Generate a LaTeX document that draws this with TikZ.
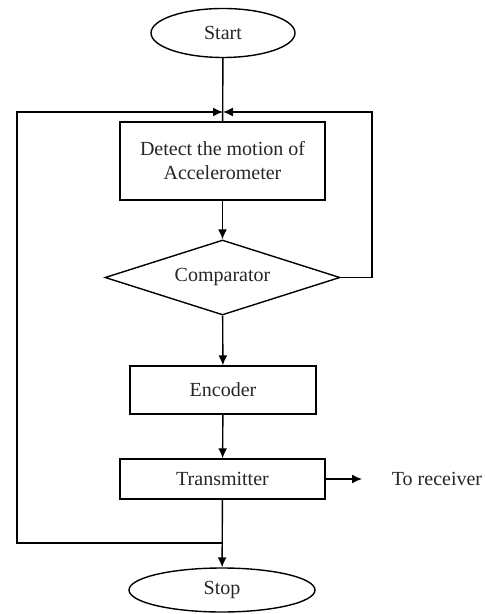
\documentclass[tikz,border=0pt]{standalone}
\usepackage{fontspec}
\setmainfont{Liberation Serif}
\usepackage{tikz}
\usetikzlibrary{arrows.meta,positioning,shapes}

\begin{document}
\begin{tikzpicture}[x=0.5pt, y=-0.5pt, >={Latex[length=5pt,width=4.5pt]}, line width=0.7pt,
        every node/.style={font=\fontsize{10}{12}\selectfont, text=black!85},
        term/.style={draw, ellipse, inner sep=0pt},
        proc/.style={draw, rectangle, align=center, inner sep=0pt},
        dec/.style={draw, diamond, aspect=3, inner sep=0pt}]
                        \useasboundingbox (0,0) rectangle (484,614);
                        \node[term, minimum width=72pt, minimum height=24.5pt] (start) at (223, 33) {Start};
                        \node[proc, minimum width=102.5pt, minimum height=39pt] (detect) at (222.5, 161) {Detect the motion of\\Accelerometer};
                        \node[dec, minimum width=117.5pt, minimum height=37.5pt] (comp) at (222.5, 277.5) {Comparator};
                        \node[proc, minimum width=93pt, minimum height=24pt] (enc) at (223, 390) {Encoder};
                        \node[proc, minimum width=102.5pt, minimum height=20pt] (trans) at (222.5, 479) {Transmitter};
                        \node[term, minimum width=93pt, minimum height=22pt] (stop) at (222, 590) {Stop};
                        \node (recv) at (437, 479) {To receiver};
                        \coordinate (jtop) at (223, 112);
                        \coordinate (jbot) at (223, 543);
                        \coordinate (lbot) at (17, 543);
                        \coordinate (ltop) at (17, 112);
                        \coordinate (rmid) at (372, 277.5);
                        \coordinate (rtop) at (372, 112);
                        \draw (start) -- (detect);
                        \draw [->] (detect) -- (comp);
                        \draw [->] (comp) -- (enc);
                        \draw [->] (enc) -- (trans);
                        \draw [->] (trans) -- (stop);
                        \draw [->] (trans.east) -- (362, 479);
                        \draw [->] (jbot) -- (lbot) -- (ltop) -- (jtop);
                        \draw [->] (comp.east) -- (rmid) -- (rtop) -- (jtop);
                        \end{tikzpicture}
\end{document}
